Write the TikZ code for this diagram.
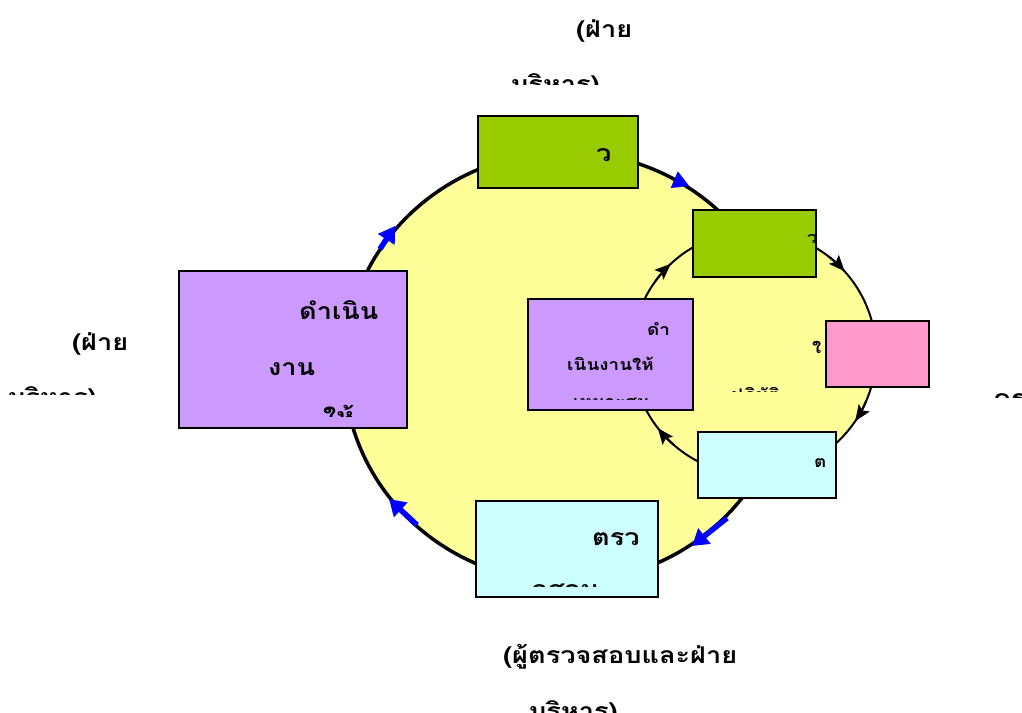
\documentclass[tikz,border=0pt]{standalone}
\usepackage{fontspec}
\newfontfamily\thaifont[Script=Thai, FakeStretch=1.18]{Loma}
\usetikzlibrary{arrows.meta,shapes.geometric}
\definecolor{cyel}{HTML}{FFFF99}
\definecolor{cgreen}{HTML}{99CC00}
\definecolor{cpurple}{HTML}{CC99FF}
\definecolor{cpink}{HTML}{FF99CC}
\definecolor{ccyan}{HTML}{CCFFFF}
\tikzset{
  big/.style={font=\thaifont\bfseries\fontsize{23}{27}\selectfont, anchor=base west, inner sep=0pt},
  small/.style={font=\thaifont\bfseries\fontsize{16}{19}\selectfont, anchor=base west, inner sep=0pt},
  boxst/.style={draw=black, line width=1.6pt, anchor=north west, inner sep=0pt},
  bluearrow/.style={draw=blue, line width=5.5pt, -{Triangle[length=16pt,width=19pt]}},
  blackarrow/.style={draw=black, line width=2pt, -{Stealth[length=16pt,width=13pt,inset=3pt]}}
}
\begin{document}
\begin{tikzpicture}[x=1pt,y=-1pt]
\useasboundingbox (0,0) rectangle (1022,712);
% big cycle
\node[draw=black, line width=3.5pt, fill=cyel, ellipse, minimum width=444pt, minimum height=430pt, inner sep=0pt] (bigc) at (566,367) {};
% inner cycle
\node[draw=black, line width=2pt, fill=cyel, circle, minimum size=244pt, inner sep=0pt] (innc) at (754,353) {};
% blue arrows on big cycle
\coordinate (b1s) at (380,249); \coordinate (b1e) at (395,226);
\coordinate (b2s) at (668,177); \coordinate (b2e) at (689,186);
\coordinate (b3s) at (727,518); \coordinate (b3e) at (692,546);
\coordinate (b4s) at (417,525); \coordinate (b4e) at (389,499);
\draw[bluearrow] (b1s) -- (b1e);
\draw[draw=blue, line width=0.1pt, -{Triangle[length=16pt,width=18pt]}] (b2s) -- (b2e);
\draw[bluearrow] (b3s) -- (b3e);
\draw[bluearrow] (b4s) -- (b4e);
% black arrows on inner cycle
\foreach \a in {227,318,34,142}{
  \draw[blackarrow] ([shift={(754,353)}]\a-11:122) arc[start angle=\a-11, end angle=\a, radius=122];
}
% boxes
\node[boxst, fill=cgreen, minimum width=160pt, minimum height=72pt] (plan) at (477,115) {};
\node[boxst, fill=cpurple, minimum width=228pt, minimum height=157pt] (act) at (178,270) {};
\node[boxst, fill=ccyan, minimum width=182pt, minimum height=96pt] (check) at (475,500) {};
\node[boxst, fill=cgreen, minimum width=123pt, minimum height=67pt] (iplan) at (692,209) {};
\node[boxst, fill=cpink, minimum width=103pt, minimum height=66pt] (ido) at (825,320) {};
\node[boxst, fill=ccyan, minimum width=138pt, minimum height=66pt] (icheck) at (697,431) {};
\node[boxst, fill=cpurple, minimum width=165pt, minimum height=111pt] (iact) at (527,298) {};
% texts in boxes
\node[big] (tplan) at (596,161) {ว};
\node[big] (tact1) at (299,319) {ดำเนิน};
\node[big] (tact2) at (268,375) {งาน};
\begin{scope}
\clip (180,380) rectangle (404,416);
\node[big] (tact3) at (323,424) {ให้};
\end{scope}
\node[big] (tcheck1) at (592,545) {ตรว};
\begin{scope}
\clip (477,560) rectangle (655,586);
\node[big] (tcheck2) at (532,597) {จสอบ};
\end{scope}
\begin{scope}
\clip (694,211) rectangle (814,274);
\node[small] (tiplan) at (807,243) {ว};
\end{scope}
\node[small] (tiact1) at (647,335) {ดำ};
\node[small] (tiact2) at (567,370) {เนินงานให้};
\begin{scope}
\clip (529,380) rectangle (690,399);
\node[small] (tiact3) at (573,407) {เหมาะสม};
\end{scope}
\node[small] (tido1) at (812,353) {ใ};
\begin{scope}
\clip (720,360) rectangle (805,391);
\node[small] (tido2) at (731,400) {ปฏิบัติ};
\end{scope}
\node[small] (ticheck) at (814,467) {ต};
% outer labels
\node[big] (ltop1) at (576,37) {(ฝ่าย};
\begin{scope}
\clip (480,50) rectangle (640,84);
\node[big] (ltop2) at (511,92) {บริหาร)};
\end{scope}
\node[big] (lleft1) at (72,350) {(ฝ่าย};
\begin{scope}
\clip (0,365) rectangle (170,394);
\node[big] (lleft2) at (8,405) {บริหาร)};
\end{scope}
\node[big] (lbot1) at (503,663) {(ผู้ตรวจสอบและฝ่าย};
\node[big] (lbot2) at (529,719) {บริหาร)};
\begin{scope}
\clip (960,360) rectangle (1022,397);
\node[big] (lright) at (993,406) {คร};
\end{scope}
\end{tikzpicture}
\end{document}
